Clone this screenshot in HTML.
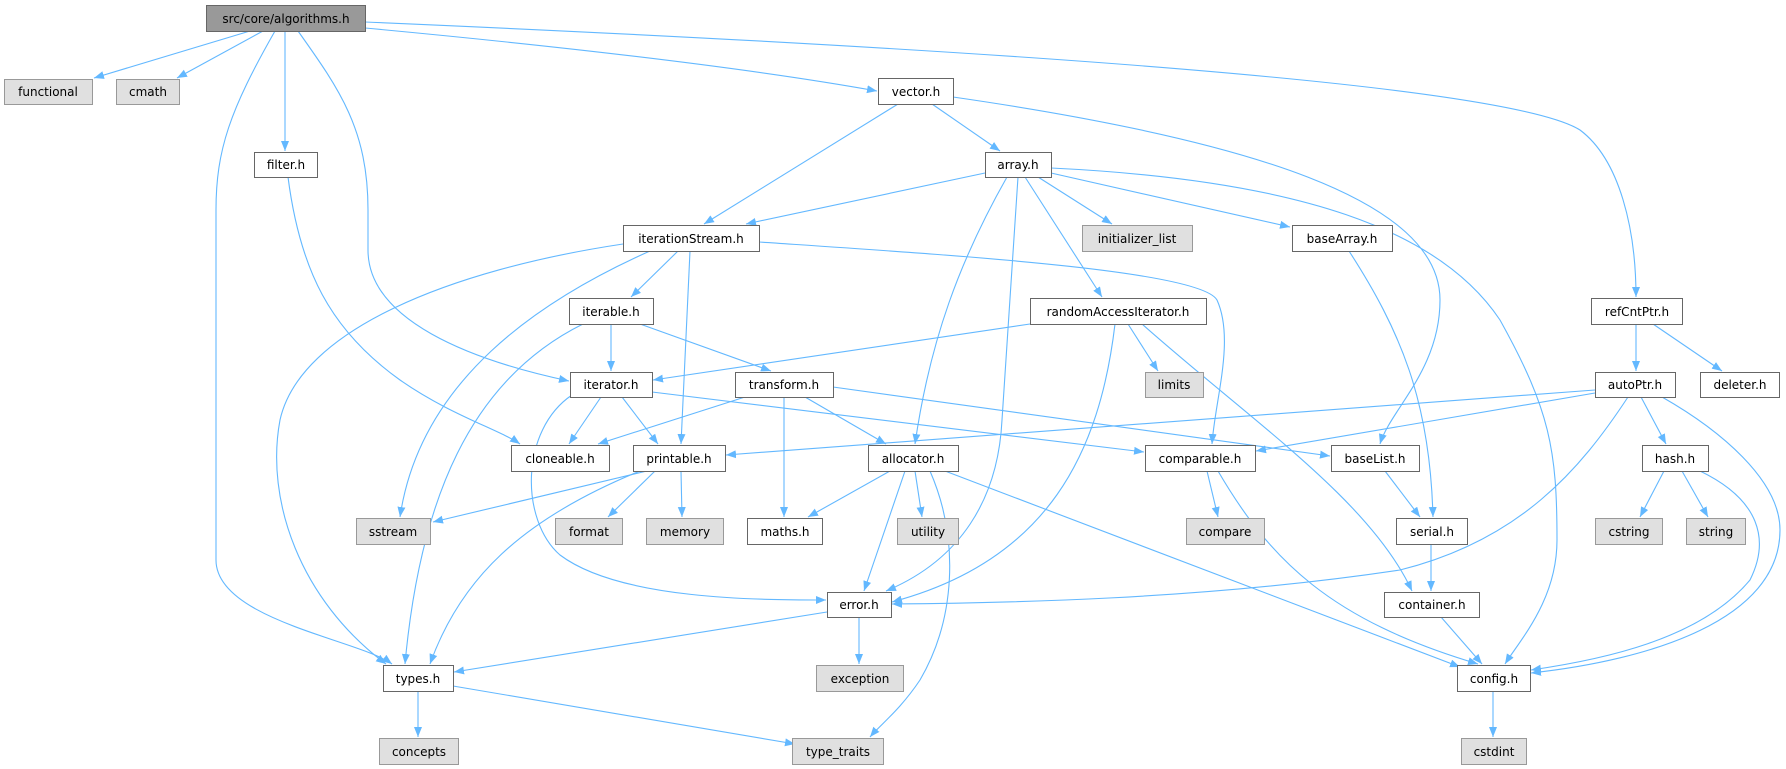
<!DOCTYPE html>
<html><head><meta charset="utf-8"><style>
html,body{margin:0;padding:0;background:#fff;}
svg{display:block;}
text{font-family:"DejaVu Sans","Liberation Sans",sans-serif;font-size:12px;fill:#000;text-anchor:middle;}
.n{fill:#fff;stroke:#666;stroke-width:1;}
.g{fill:#e0e0e0;stroke:#999;stroke-width:1;}
.r{fill:#999;stroke:#666;stroke-width:1;}
.e{fill:none;stroke:#63b8ff;stroke-width:1.1;marker-end:url(#a);}
</style></head><body>
<svg width="1786" height="769" viewBox="0 0 1786 769" xmlns="http://www.w3.org/2000/svg">
<defs><marker id="a" markerUnits="userSpaceOnUse" markerWidth="11" markerHeight="9" refX="10" refY="4" orient="auto"><path d="M0,0 L10,4 L0,8 z" fill="#63b8ff"/></marker></defs>
<g>
<path class="e" d="M250,31 L94,78"/>
<path class="e" d="M263,31 L177,78"/>
<path class="e" d="M275,31 C230,110 216,150 216,210 L216,560 C216,620 360,640 392,664"/>
<path class="e" d="M285,31 L285,151"/>
<path class="e" d="M298,31 C340,90 368,130 368,210 L368,250 C368,320 470,360 569,381"/>
<path class="e" d="M365,28 C600,50 760,70 877,91"/>
<path class="e" d="M365,22 C900,45 1500,80 1580,130 C1620,160 1636,230 1636,297"/>
<path class="e" d="M898,104 L704,224"/>
<path class="e" d="M932,104 L1000,151"/>
<path class="e" d="M953,97 C1250,140 1440,200 1440,300 C1440,370 1390,410 1380,444"/>
<path class="e" d="M985,173 L746,224"/>
<path class="e" d="M1038,177 L1112,224"/>
<path class="e" d="M1051,173 L1290,227"/>
<path class="e" d="M1025,177 L1102,297"/>
<path class="e" d="M1051,168 C1300,180 1440,230 1500,320 C1550,410 1557,450 1557,540 C1557,600 1520,640 1505,664"/>
<path class="e" d="M1007,177 C960,260 930,340 915,444"/>
<path class="e" d="M1018,177 L1002,420 C998,500 960,560 886,591"/>
<path class="e" d="M623,244 C450,270 300,330 280,420 C265,500 300,600 386,664"/>
<path class="e" d="M650,251 C540,300 420,380 400,517"/>
<path class="e" d="M678,251 L631,297"/>
<path class="e" d="M690,251 L681,444"/>
<path class="e" d="M759,242 C950,255 1200,270 1217,300 C1235,340 1215,400 1212,444"/>
<path class="e" d="M611,324 L611,371"/>
<path class="e" d="M640,324 L771,371"/>
<path class="e" d="M583,324 C470,380 420,500 405,664"/>
<path class="e" d="M1030,324 L653,380"/>
<path class="e" d="M1128,324 L1158,371"/>
<path class="e" d="M1115,324 C1100,450 1050,560 892,602"/>
<path class="e" d="M1142,324 C1250,420 1370,500 1412,591"/>
<path class="e" d="M1636,324 L1636,371"/>
<path class="e" d="M1653,324 L1722,371"/>
<path class="e" d="M601,397 L569,444"/>
<path class="e" d="M622,397 L658,444"/>
<path class="e" d="M652,392 L1144,452"/>
<path class="e" d="M572,395 C520,430 520,520 560,555 C620,600 760,600 826,600"/>
<path class="e" d="M745,397 L598,444"/>
<path class="e" d="M784,397 L784,517"/>
<path class="e" d="M805,397 L886,444"/>
<path class="e" d="M833,387 L1330,456"/>
<path class="e" d="M1595,390 L726,455"/>
<path class="e" d="M1595,393 L1256,451"/>
<path class="e" d="M1641,397 L1666,444"/>
<path class="e" d="M1628,397 C1580,470 1520,540 1400,570 C1200,600 1000,603 892,604"/>
<path class="e" d="M1662,397 C1720,430 1780,480 1780,530 C1780,620 1650,660 1531,673"/>
<path class="e" d="M288,177 C300,270 330,330 400,380 C450,415 500,430 520,444"/>
<path class="e" d="M647,471 L433,522"/>
<path class="e" d="M655,471 L608,517"/>
<path class="e" d="M681,471 L682,517"/>
<path class="e" d="M640,471 C520,520 460,580 430,664"/>
<path class="e" d="M890,471 L808,517"/>
<path class="e" d="M915,471 L922,517"/>
<path class="e" d="M905,471 L864,591"/>
<path class="e" d="M930,471 C960,540 955,620 920,680 C900,710 880,725 870,737"/>
<path class="e" d="M945,471 L1460,667"/>
<path class="e" d="M1207,471 L1218,517"/>
<path class="e" d="M1218,471 C1270,560 1330,620 1478,664"/>
<path class="e" d="M1385,471 L1420,517"/>
<path class="e" d="M1349,251 C1400,330 1430,400 1433,517"/>
<path class="e" d="M1664,471 L1640,517"/>
<path class="e" d="M1682,471 L1708,517"/>
<path class="e" d="M1700,471 C1760,500 1770,540 1750,580 C1700,640 1600,660 1531,670"/>
<path class="e" d="M1431,544 L1431,591"/>
<path class="e" d="M1441,617 L1482,664"/>
<path class="e" d="M827,612 L454,672"/>
<path class="e" d="M859,617 L859,664"/>
<path class="e" d="M418,691 L418,737"/>
<path class="e" d="M453,686 L795,744"/>
<path class="e" d="M1493,691 L1493,737"/>
</g>
<g>
<rect class="r" x="206.5" y="5.5" width="159" height="26"/><text x="286" y="23">src/core/algorithms.h</text>
<rect class="g" x="4.5" y="79.5" width="88" height="25"/><text x="48" y="96">functional</text>
<rect class="g" x="116.5" y="79.5" width="63" height="25"/><text x="148" y="96">cmath</text>
<rect class="n" x="878.5" y="78.5" width="75" height="26"/><text x="916" y="96">vector.h</text>
<rect class="n" x="254.5" y="152.5" width="63" height="25"/><text x="286" y="169">filter.h</text>
<rect class="n" x="985.5" y="152.5" width="66" height="25"/><text x="1018" y="169">array.h</text>
<rect class="n" x="623.5" y="225.5" width="136" height="26"/><text x="691" y="243">iterationStream.h</text>
<rect class="g" x="1082.5" y="225.5" width="110" height="26"/><text x="1137" y="243">initializer_list</text>
<rect class="n" x="1292.5" y="225.5" width="100" height="26"/><text x="1342" y="243">baseArray.h</text>
<rect class="n" x="1591.5" y="298.5" width="91" height="26"/><text x="1637" y="316">refCntPtr.h</text>
<rect class="n" x="569.5" y="298.5" width="84" height="26"/><text x="611" y="316">iterable.h</text>
<rect class="n" x="1030.5" y="298.5" width="176" height="26"/><text x="1118" y="316">randomAccessIterator.h</text>
<rect class="n" x="570.5" y="372.5" width="82" height="25"/><text x="611" y="389">iterator.h</text>
<rect class="n" x="735.5" y="372.5" width="98" height="25"/><text x="784" y="389">transform.h</text>
<rect class="g" x="1145.5" y="372.5" width="58" height="25"/><text x="1174" y="389">limits</text>
<rect class="n" x="1595.5" y="372.5" width="80" height="25"/><text x="1635" y="389">autoPtr.h</text>
<rect class="n" x="1700.5" y="372.5" width="79" height="25"/><text x="1740" y="389">deleter.h</text>
<rect class="n" x="511.5" y="445.5" width="98" height="26"/><text x="560" y="463">cloneable.h</text>
<rect class="n" x="633.5" y="445.5" width="92" height="26"/><text x="679" y="463">printable.h</text>
<rect class="n" x="868.5" y="445.5" width="90" height="26"/><text x="913" y="463">allocator.h</text>
<rect class="n" x="1145.5" y="445.5" width="110" height="26"/><text x="1200" y="463">comparable.h</text>
<rect class="n" x="1331.5" y="445.5" width="88" height="26"/><text x="1375" y="463">baseList.h</text>
<rect class="n" x="1642.5" y="445.5" width="66" height="26"/><text x="1675" y="463">hash.h</text>
<rect class="g" x="356.5" y="518.5" width="74" height="26"/><text x="393" y="536">sstream</text>
<rect class="g" x="555.5" y="518.5" width="67" height="26"/><text x="589" y="536">format</text>
<rect class="g" x="646.5" y="518.5" width="77" height="26"/><text x="685" y="536">memory</text>
<rect class="n" x="747.5" y="518.5" width="75" height="26"/><text x="785" y="536">maths.h</text>
<rect class="g" x="897.5" y="518.5" width="61" height="26"/><text x="928" y="536">utility</text>
<rect class="g" x="1186.5" y="518.5" width="78" height="26"/><text x="1225" y="536">compare</text>
<rect class="n" x="1396.5" y="518.5" width="71" height="26"/><text x="1432" y="536">serial.h</text>
<rect class="g" x="1595.5" y="518.5" width="67" height="26"/><text x="1629" y="536">cstring</text>
<rect class="g" x="1686.5" y="518.5" width="59" height="26"/><text x="1716" y="536">string</text>
<rect class="n" x="827.5" y="592.5" width="64" height="25"/><text x="859" y="609">error.h</text>
<rect class="n" x="1384.5" y="592.5" width="95" height="25"/><text x="1432" y="609">container.h</text>
<rect class="n" x="383.5" y="665.5" width="70" height="26"/><text x="418" y="683">types.h</text>
<rect class="g" x="816.5" y="665.5" width="87" height="26"/><text x="860" y="683">exception</text>
<rect class="n" x="1457.5" y="665.5" width="73" height="26"/><text x="1494" y="683">config.h</text>
<rect class="g" x="379.5" y="738.5" width="79" height="26"/><text x="419" y="756">concepts</text>
<rect class="g" x="792.5" y="738.5" width="91" height="26"/><text x="838" y="756">type_traits</text>
<rect class="g" x="1461.5" y="738.5" width="65" height="26"/><text x="1494" y="756">cstdint</text>
</g>
</svg>
</body></html>
